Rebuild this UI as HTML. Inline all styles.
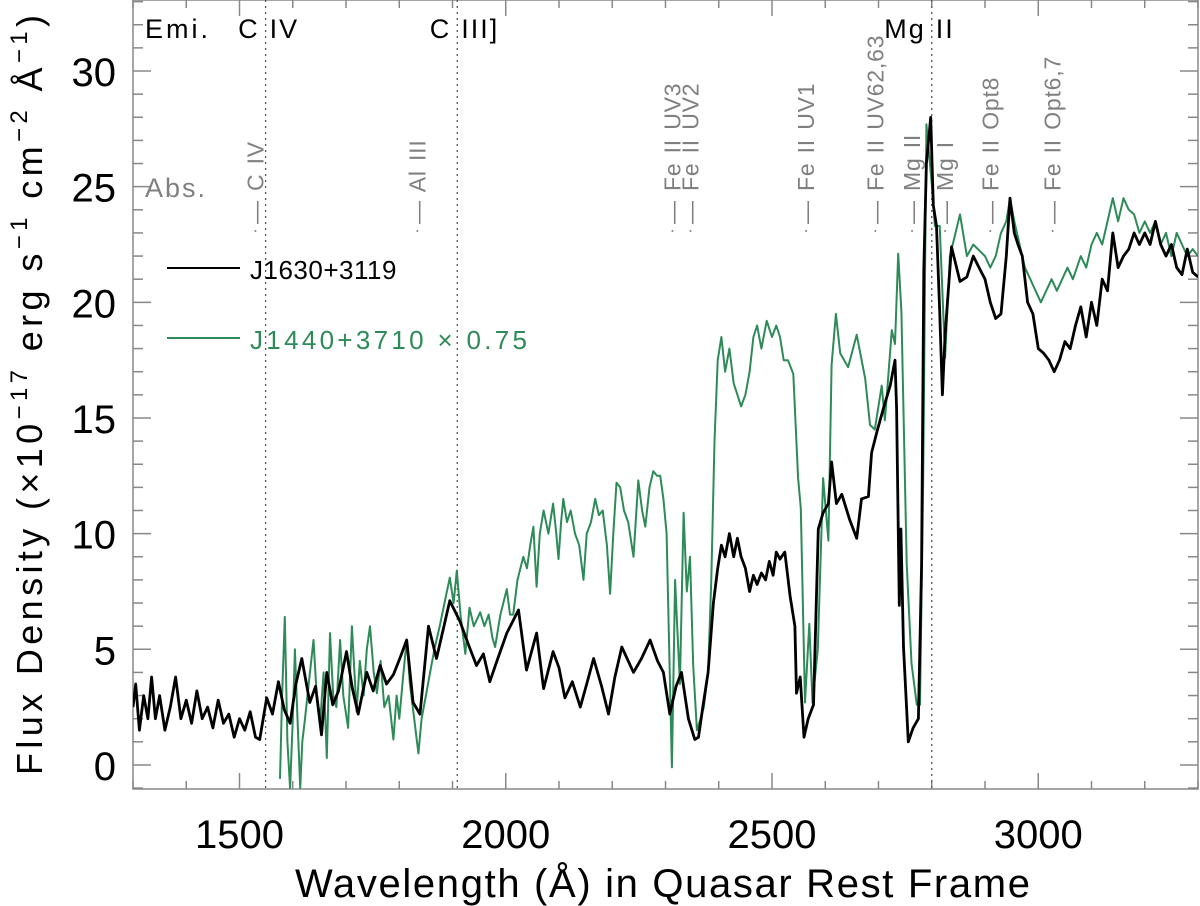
<!DOCTYPE html>
<html><head><meta charset="utf-8"><style>
html,body{margin:0;padding:0;background:#fff}
svg{display:block;font-family:"Liberation Sans","DejaVu Sans",sans-serif}
</style></head><body>
<svg id="chart" width="1200" height="906" viewBox="0 0 1200 906" xmlns="http://www.w3.org/2000/svg">
<defs><clipPath id="plotclip"><rect x="133" y="0" width="1065" height="789"/></clipPath></defs>
<g id="axes"></g>
<g id="series" clip-path="url(#plotclip)"></g>
<g id="labels"></g>
<text transform="translate(42,395) rotate(-90)" text-anchor="middle" font-size="36" fill="#000" textLength="760" lengthAdjust="spacing">Flux Density (×10<tspan dy="-15" font-size="24">−17</tspan><tspan dy="15"> erg s</tspan><tspan dy="-15" font-size="24">−1</tspan><tspan dy="15"> cm</tspan><tspan dy="-15" font-size="24">−2</tspan><tspan dy="15"> Å</tspan><tspan dy="-15" font-size="24">−1</tspan><tspan dy="15">)</tspan></text>
<text x="295" y="897" font-size="40" fill="#000" textLength="735" lengthAdjust="spacing">Wavelength (Å) in Quasar Rest Frame</text>
<g>
<line x1="167" y1="268" x2="240" y2="268" stroke="#000" stroke-width="2"/>
<text x="250" y="279" font-size="26" fill="#000" letter-spacing="0.5">J1630+3119</text>
<line x1="167" y1="338" x2="240" y2="338" stroke="#2e8b57" stroke-width="2"/>
<text x="250" y="349" font-size="26" fill="#2e8b57" textLength="277" lengthAdjust="spacing">J1440+3710 × 0.75</text>
</g>
</svg>
<script>
const xDomain=[1300,3300], yDomain=[-1.04,33.07];
const xTicks=[1500,2000,2500,3000];
const yTicks=[0,5,10,15,20,25,30];
const blackWave=[1300,1305,1312,1320,1328,1335,1342,1350,1360,1370,1380,1390,1400,1410,1420,1430,1440,1450,1460,1470,1480,1490,1500,1510,1520,1530,1538,1551,1562,1573,1584,1595,1606,1617,1632,1643,1654,1664,1675,1686,1701,1712,1723,1739,1751,1764,1776,1789,1801,1814,1826,1839,1855,1870,1882,1895,1914,1930,1945,1958,1970,1985,2002,2024,2039,2058,2071,2089,2100,2111,2125,2140,2152,2165,2180,2193,2205,2218,2240,2255,2271,2285,2296,2308,2320,2330,2343,2355,2362,2370,2380,2390,2398,2405,2412,2420,2428,2435,2442,2450,2458,2465,2472,2480,2488,2495,2502,2508,2515,2524,2534,2543,2546,2553,2560,2568,2578,2587,2596,2606,2612,2621,2631,2646,2659,2668,2681,2687,2697,2709,2722,2731,2734,2739,2742,2747,2756,2765,2775,2781,2785,2790,2798,2803,2809,2815,2820,2825,2837,2853,2866,2878,2891,2900,2910,2920,2930,2940,2947,2955,2962,2970,2980,2990,3000,3010,3020,3030,3040,3050,3060,3070,3080,3090,3100,3110,3120,3130,3140,3150,3160,3170,3180,3190,3200,3210,3220,3230,3240,3250,3260,3270,3280,3290,3300];
const blackFlux=[2.5,3.5,1.5,3,2,3.8,2,3,1.5,2.5,3.8,2,2.8,1.8,3.2,2,2.5,1.6,2.8,1.8,2.2,1.2,2,1.5,2.3,1.2,1.1,2.9,2.2,3.6,2.4,1.8,3.5,4.6,2.7,3.4,1.3,4,2.6,3.2,4.9,3.3,2.2,4,3.2,4.3,3.5,3.9,4.6,5.4,2.7,2.2,6,4.6,5.8,7.1,6.2,5.2,4.3,4.8,3.6,4.6,5.7,6.7,4.1,5.7,3.3,4.9,4.2,2.9,3.6,2.5,3.5,4.6,3.4,2.2,3.8,5.1,4,4.6,5.4,4.5,4,2.2,3.4,4,2,1.1,1.2,2.5,4,7,8.5,9.5,9,10,9,9.8,9,8.5,7.5,8.2,7.8,8.3,8,8.8,8.2,9.2,8.9,9.2,7.3,6,3.1,3.8,1.2,2,2.6,10.2,10.9,11.3,13.1,11.3,11.7,10.6,9.8,11.5,11.6,13.5,14.4,15.4,16.4,17.5,15.4,6.9,10.2,5.1,1,1.6,2,8.7,21.4,26,28,24.2,23.3,19.6,16,18.6,22.4,20.9,21.1,22,21.4,21,20,19.3,19.5,22,24.5,23,22.5,22,20,19.5,18,17.8,17.5,17,17.5,18.3,18,19,19.8,18.5,20,19,21,20.5,23,21.5,22,22.3,23,22.5,23,22.5,23.5,22.5,22,22.5,21.5,21.2,22.3,21.3,21.1];
const greenWave=[1576,1580,1585,1590,1595,1600,1604,1609,1614,1618,1623,1630,1639,1645,1652,1658,1664,1670,1676,1682,1689,1695,1704,1711,1720,1726,1733,1739,1745,1752,1758,1765,1772,1780,1789,1795,1800,1808,1814,1820,1828,1836,1842,1850,1858,1866,1876,1885,1895,1902,1908,1915,1924,1932,1940,1952,1960,1968,1975,1980,1990,2002,2008,2014,2022,2033,2040,2046,2052,2058,2064,2071,2080,2089,2095,2099,2104,2108,2115,2122,2130,2138,2146,2152,2160,2168,2175,2182,2190,2196,2202,2208,2215,2222,2230,2240,2249,2256,2262,2270,2277,2284,2290,2296,2302,2307,2312,2318,2322,2327,2334,2340,2346,2352,2359,2366,2372,2380,2386,2392,2398,2405,2412,2420,2428,2435,2442,2450,2458,2465,2472,2480,2490,2500,2508,2515,2522,2530,2540,2549,2554,2562,2570,2576,2586,2596,2606,2612,2620,2628,2643,2659,2675,2684,2693,2706,2712,2725,2731,2737,2743,2753,2762,2772,2778,2784,2790,2800,2806,2815,2825,2834,2853,2866,2878,2891,2900,2910,2920,2930,2940,2947,2955,2965,2975,2985,2995,3005,3015,3025,3035,3045,3055,3065,3080,3090,3100,3110,3120,3130,3140,3150,3160,3170,3180,3190,3200,3210,3220,3230,3240,3250,3260,3270,3280,3290,3300];
const greenFlux=[-0.6,3,6.4,1,-1,2,5,2,-1,1,2,3.5,5.4,3,2,4,0.3,5.7,3,2.5,5.4,3,1.6,6,2.3,4.5,3,5,6,4,3.1,4.5,2.5,3,1.1,3,2,4,5.4,3.5,2,0.5,2,3,4,5,6,7,8.1,7,8.4,6.5,4.8,6.8,6,6.6,6,6.5,5.5,5.1,6.5,7.6,6.5,6.5,8,9,8.5,9.5,10.3,7.7,10,11,10,11.3,10,8.9,10.5,11.5,10.5,11,10,9.5,8,10,10.5,11.5,10.8,11,9.5,7.4,10,12.2,12,11,10.5,9,12.3,11,10.3,12,12.7,12.5,12.5,11.5,10,5,-0.1,8,6,3.5,10.9,7.5,9,4.3,1.5,2,2.5,4,8,14,17.5,18.5,17,18,16.5,16,15.5,16,17,18.5,19,18,19.2,18.5,19,18.5,17.5,17.5,16.9,12.4,11.1,2.7,6.1,2.7,5,12.4,9.7,17.3,19.5,17.8,17.2,18.6,16.7,14.7,14.5,16.4,14.9,18.8,18.2,22.1,19.6,8.7,4.4,2.6,2.6,12.4,27.7,25.1,23.3,23.3,17.6,22,23.8,22,22.5,22.2,22,21.5,22,23,23.5,24.5,23.5,22.5,21.5,21,20.5,20,20.5,21,20.5,21,21.5,21,22,21.5,22.5,23,22.5,23.5,24.5,23.5,24.5,24,23.8,23,23.5,23,23.5,22.5,23,22,23,22.5,22,22.3,22];
const emiNames=["C IV","C III]","Mg II"];
const emiWave=[1549,1909,2800];
const absNames=["C IV","Al III","Fe II UV3","Fe II UV2","Fe II UV1","Fe II UV62,63","Mg II","Mg I","Fe II Opt8","Fe II Opt6,7"];
const absWave=[1530,1834,2313,2347,2564,2694,2763,2825,2910,3027];

const PL=133,PR=1198,PT=0,PB=789;
const X=v=>PL+(v-xDomain[0])/(xDomain[1]-xDomain[0])*(PR-PL);
const Y=v=>PB-(v-yDomain[0])/(yDomain[1]-yDomain[0])*(PB-PT);
const NS="http://www.w3.org/2000/svg";
function mk(tag,attrs,parent){const e=document.createElementNS(NS,tag);for(const k in attrs)e.setAttribute(k,attrs[k]);parent.appendChild(e);return e;}
const axes=document.getElementById('axes'),series=document.getElementById('series'),labels=document.getElementById('labels');

const frame=mk('rect',{x:PL,y:PT,width:PR-PL,height:PB-PT,fill:'none',stroke:'#888','stroke-width':1.5},axes);


for(let w=1300;w<=3300;w+=100){
  const maj=w%500===0,len=maj?16:8,x=X(w);
  const t=mk('line',{x1:x,y1:PB,x2:x,y2:PB-len,stroke:'#888','stroke-width':1.5},axes);
  
  
  const t2=mk('line',{x1:x,y1:PT,x2:x,y2:PT+len,stroke:'#888','stroke-width':1.5},axes);
  
  
}
xTicks.forEach(v=>{const t=mk('text',{x:X(v),y:848,'text-anchor':'middle','font-size':40,fill:'#000'},axes);t.textContent=v;
  
  });
for(let f=-1;f<=33;f++){
  const maj=f%5===0,len=maj?18:10,y=Y(f);
  const t=mk('line',{x1:PL,y1:y,x2:PL+len,y2:y,stroke:'#888','stroke-width':1.5},axes);
  
  
  const t2=mk('line',{x1:PR,y1:y,x2:PR-len,y2:y,stroke:'#888','stroke-width':1.5},axes);
  
  
}
yTicks.forEach(v=>{const t=mk('text',{x:116,y:Y(v)+15,'text-anchor':'end','font-size':40,fill:'#000'},axes);t.textContent=v;
  
  });

emiWave.forEach((w,i)=>{
  const l=mk('line',{x1:X(w),y1:PT,x2:X(w),y2:PB,stroke:'#555','stroke-width':1.3,'stroke-dasharray':'2,4'},series);
  
  
  const parts=emiNames[i].split(' ');
  const a=mk('text',{x:X(w)-6,y:38,'text-anchor':'end','font-size':27,fill:'#000','letter-spacing':2},labels);a.textContent=parts[0];
  
  
  const b=mk('text',{x:X(w)+4,y:38,'text-anchor':'start','font-size':27,fill:'#000','letter-spacing':2},labels);b.textContent=parts[1];
  
  
});
const emi=mk('text',{x:145,y:38,'font-size':27,fill:'#000','letter-spacing':3},labels);emi.textContent='Emi.';


const abs=mk('text',{x:145,y:197,'font-size':27,fill:'#808080','letter-spacing':2},labels);abs.textContent='Abs.';


absWave.forEach((w,i)=>{
  const x=X(w);
  const t=mk('text',{transform:`translate(${x+8},224) rotate(-90)`,'font-size':23,fill:'#808080','letter-spacing':0.8,'word-spacing':2},labels);
  t.textContent='— '+absNames[i];
  
  
  const d=mk('circle',{cx:x,cy:231,r:1,fill:'#808080'},labels);
  
  
});

function path(ws,fs){return ws.map((w,i)=>(i?'L':'M')+X(w).toFixed(1)+','+Y(fs[i]).toFixed(1)).join('');}
const g=mk('path',{d:path(greenWave,greenFlux),fill:'none',stroke:'#2e8b57','stroke-width':2,'stroke-linejoin':'round'},series);


const k=mk('path',{d:path(blackWave,blackFlux),fill:'none',stroke:'#000','stroke-width':2.8,'stroke-linejoin':'round'},series);


</script>
</body></html>
